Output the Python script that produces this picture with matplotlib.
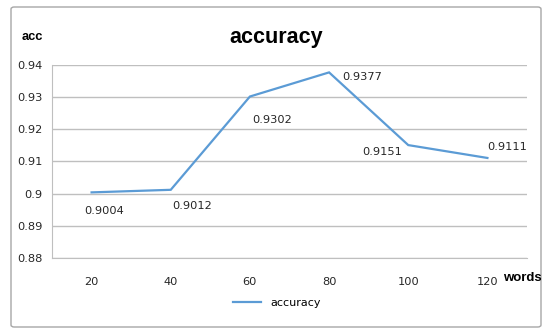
import matplotlib.pyplot as plt
from matplotlib.patches import FancyBboxPatch

# data
words = ['20', '40', '60', '80', '100', '120']
accuracy = [0.9004, 0.9012, 0.9302, 0.9377, 0.9151, 0.9111]
# label offsets in pixels (dx, dy), picked to sit like the original
label_offsets = [(13, -19), (21, -16), (22, -23), (33, -5), (-26, -7), (20, 11)]

y_ticks = [0.88, 0.89, 0.90, 0.91, 0.92, 0.93, 0.94]
y_tick_labels = ['0.88', '0.89', '0.9', '0.91', '0.92', '0.93', '0.94']

line_color = '#5B9BD5'
grid_color = '#BFBFBF'
text_color = '#262626'

fig = plt.figure(figsize=(5.5, 3.36), dpi=100)
ax = fig.add_axes([52 / 550, 1 - 258 / 336, 475 / 550, 193 / 336])

xs = list(range(len(words)))
ax.plot(xs, accuracy, color=line_color, linewidth=1.6, label='accuracy',
        solid_joinstyle='miter')

for x, y, (dx, dy) in zip(xs, accuracy, label_offsets):
    ax.annotate(f'{y:.4f}', (x, y), xytext=(dx, dy), textcoords='offset pixels',
                ha='center', va='center', fontsize=8.2, color=text_color,
                family='DejaVu Sans')

ax.set_xlim(-0.5, len(words) - 0.5)
ax.set_ylim(0.88, 0.94)
ax.set_xticks(xs)
ax.set_xticklabels(words, fontsize=8.2, color=text_color)
ax.set_yticks(y_ticks)
ax.set_yticklabels(y_tick_labels, fontsize=8.2, color=text_color)
ax.tick_params(axis='both', length=0)
ax.tick_params(axis='x', pad=14)
ax.tick_params(axis='y', pad=7)

ax.grid(True, axis='y', color=grid_color, linewidth=1)
ax.set_axisbelow(True)
for side in ['top', 'right']:
    ax.spines[side].set_visible(False)
ax.spines['left'].set_color(grid_color)
ax.spines['bottom'].set_color(grid_color)

fig.text(0.502, 1 - 37 / 336, 'accuracy', ha='center', va='center',
         fontsize=15.5, fontweight='bold', family='Liberation Sans', color='black')
fig.text(32 / 550, 1 - 37 / 336, 'acc', ha='center', va='center',
         fontsize=9.3, fontweight='bold', family='Liberation Sans', color='black')
fig.text(503 / 550, 1 - 278 / 336, 'words', ha='left', va='center',
         fontsize=9.5, fontweight='bold', family='Liberation Sans', color='black')

fig.legend(loc='center', bbox_to_anchor=(0.503, 1 - 303 / 336), frameon=False,
           handlelength=2.6, prop={'family': 'DejaVu Sans', 'size': 8})

# outer chart frame
frame = FancyBboxPatch((11 / 550, 1 - 327 / 336), 530 / 550, 320 / 336,
                       boxstyle='round,pad=0,rounding_size=0.006',
                       transform=fig.transFigure, fill=False,
                       edgecolor='#A6A6A6', linewidth=1)
fig.patches.append(frame)

fig.savefig('out.png', dpi=100)
